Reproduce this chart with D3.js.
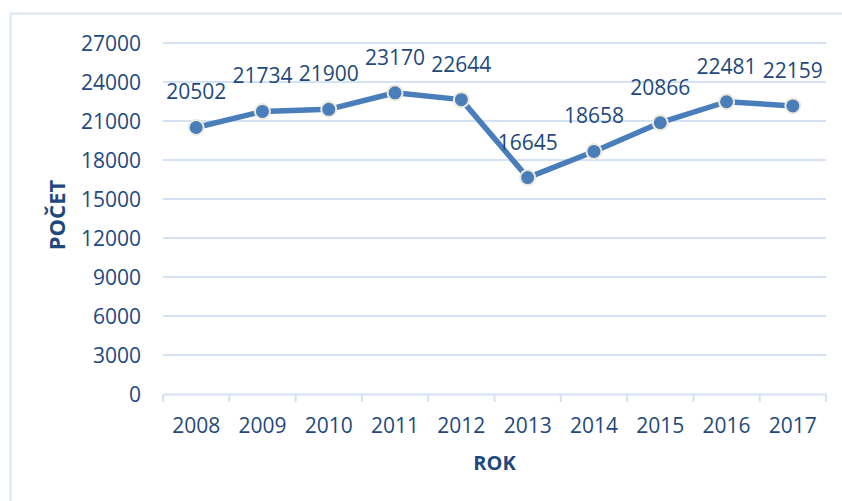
<!DOCTYPE html>
<html>
<head>
<meta charset="utf-8">
<script src="https://cdn.jsdelivr.net/npm/d3@7"></script>
<style>
  body { margin: 0; background: #fff; }
  text { font-family: "Open Sans", sans-serif; }
</style>
</head>
<body>
<script>
// dati del grafico
var years = ["2008", "2009", "2010", "2011", "2012", "2013", "2014", "2015", "2016", "2017"];
var counts = [20502, 21734, 21900, 23170, 22644, 16645, 18658, 20866, 22481, 22159];
var yTicks = [0, 3000, 6000, 9000, 12000, 15000, 18000, 21000, 24000, 27000];

var textColour = "#1f497d";
var lineColour = "#4a7ebb";
var gridColour = "#d5e2f3";
var fontSize = "21px";

var totalWidth = 842, totalHeight = 501;
var margin = {top: 43, right: 16, bottom: 107, left: 163};
var width = totalWidth - margin.left - margin.right;
var height = totalHeight - margin.top - margin.bottom;

var root = d3.select("body").append("svg")
    .attr("width", totalWidth)
    .attr("height", totalHeight);

// cornice esterna
root.append("rect")
    .attr("x", 10.5).attr("y", 13.5)
    .attr("width", 840).attr("height", 500)
    .attr("fill", "none")
    .attr("stroke", "#dae5f4")
    .attr("stroke-width", 2);

var svg = root.append("g")
    .attr("transform", "translate(" + margin.left + "," + margin.top + ")");

var x = d3.scaleBand().domain(years).range([0, width]);
var y = d3.scaleLinear().domain([0, 27000]).range([height, 0]);

// griglia orizzontale
svg.selectAll(".grid").data(yTicks.filter(function(d) { return d > 0; }))
    .enter().append("line")
    .attr("class", "grid")
    .attr("x1", 0).attr("x2", width)
    .attr("y1", function(d) { return y(d); })
    .attr("y2", function(d) { return y(d); })
    .attr("stroke", gridColour)
    .attr("stroke-width", 2);

// asse y (solo etichette)
var yAxis = svg.append("g")
    .call(d3.axisLeft(y).tickValues(yTicks).tickFormat(d3.format("d")).tickSize(0).tickPadding(22));
yAxis.select(".domain").remove();
yAxis.selectAll("text")
    .attr("fill", textColour)
    .style("font-size", fontSize)
    .attr("dy", "0.35em");

// asse x
var xAxis = svg.append("g")
    .attr("transform", "translate(0," + height + ")")
    .call(d3.axisBottom(x).tickSizeOuter(0).tickSize(0).tickPadding(24));
xAxis.select(".domain")
    .attr("stroke", gridColour)
    .attr("stroke-width", 2);
xAxis.selectAll("text")
    .attr("fill", textColour)
    .style("font-size", fontSize);

// tacche tra le categorie
var bounds = years.map(function(d) { return x(d); }).concat([width]);
svg.selectAll(".tick-mark").data(bounds)
    .enter().append("line")
    .attr("class", "tick-mark")
    .attr("x1", function(d) { return d; })
    .attr("x2", function(d) { return d; })
    .attr("y1", height).attr("y2", height + 8)
    .attr("stroke", gridColour)
    .attr("stroke-width", 2);

// linea
var line = d3.line()
    .x(function(d, i) { return x(years[i]) + x.bandwidth() / 2; })
    .y(function(d) { return y(d); });

svg.append("path")
    .datum(counts)
    .attr("d", line)
    .attr("fill", "none")
    .attr("stroke", lineColour)
    .attr("stroke-width", 5.5)
    .attr("stroke-linejoin", "round");

// marcatori
svg.selectAll(".dot").data(counts)
    .enter().append("circle")
    .attr("class", "dot")
    .attr("cx", function(d, i) { return x(years[i]) + x.bandwidth() / 2; })
    .attr("cy", function(d) { return y(d); })
    .attr("r", 7.5)
    .attr("fill", "#4a7ebb")
    .attr("stroke", "#eeeadb")
    .attr("stroke-width", 2);

// etichette dei valori
svg.selectAll(".lbl").data(counts)
    .enter().append("text")
    .attr("class", "lbl")
    .attr("x", function(d, i) { return x(years[i]) + x.bandwidth() / 2; })
    .attr("y", function(d) { return y(d) - 28; })
    .attr("text-anchor", "middle")
    .attr("fill", textColour)
    .style("font-size", fontSize)
    .text(function(d) { return d; });

// titoli degli assi
root.append("text")
    .attr("transform", "translate(65,215) rotate(-90)")
    .attr("text-anchor", "middle")
    .attr("fill", textColour)
    .style("font-size", "22px")
    .attr("font-weight", "bold")
    .text("POČET");

root.append("text")
    .attr("x", margin.left + width / 2)
    .attr("y", 470)
    .attr("text-anchor", "middle")
    .attr("fill", textColour)
    .style("font-size", "20px")
    .attr("font-weight", "bold")
    .text("ROK");
</script>
</body>
</html>
